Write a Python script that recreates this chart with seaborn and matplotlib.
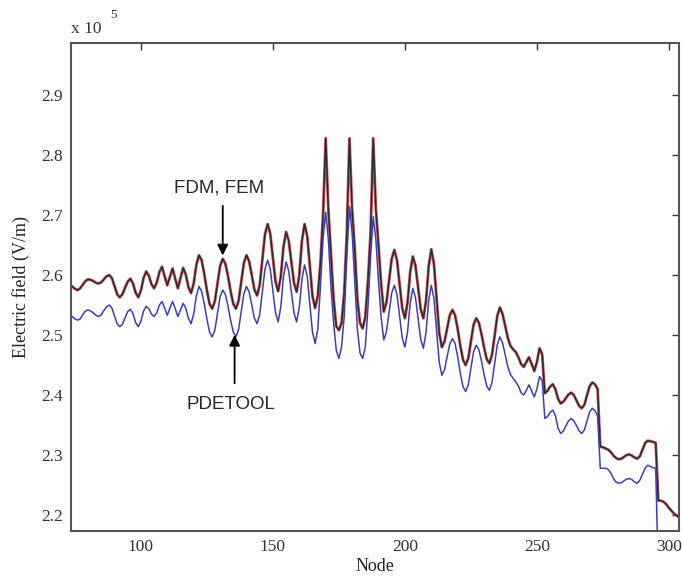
import numpy as np
import pandas as pd
import seaborn as sns
import matplotlib.pyplot as plt

# Electric field along the nodes (x 10^5 V/m)
nodes = list(range(73, 305))

fdm_fem = [
    2.583, 2.581, 2.577, 2.575, 2.578, 2.584, 2.590,
    2.593, 2.592, 2.590, 2.587, 2.586, 2.588, 2.593, 2.598, 2.600, 2.595,
    2.582, 2.568, 2.563, 2.568, 2.579, 2.589, 2.594, 2.586, 2.571, 2.563,
    2.574, 2.595, 2.606, 2.599, 2.585, 2.578, 2.587, 2.605, 2.614, 2.598,
    2.583, 2.597, 2.611, 2.594, 2.578, 2.595, 2.612, 2.601, 2.580, 2.570,
    2.586, 2.617, 2.633, 2.625, 2.602, 2.575, 2.552, 2.544, 2.556, 2.586,
    2.615, 2.627, 2.619, 2.598, 2.573, 2.552, 2.544, 2.557, 2.589, 2.620,
    2.633, 2.623, 2.600, 2.576, 2.566, 2.583, 2.626, 2.668, 2.685, 2.669,
    2.629, 2.589, 2.573, 2.598, 2.647, 2.672, 2.657, 2.622, 2.587, 2.572,
    2.600, 2.657, 2.685, 2.665, 2.615, 2.565, 2.545, 2.565, 2.620, 2.700,
    2.828, 2.710, 2.635, 2.560, 2.515, 2.508, 2.520, 2.570, 2.670, 2.828,
    2.710, 2.645, 2.560, 2.520, 2.511, 2.530, 2.590, 2.670, 2.828, 2.710,
    2.650, 2.585, 2.539, 2.554, 2.591, 2.627, 2.642, 2.625, 2.585, 2.545,
    2.528, 2.554, 2.605, 2.631, 2.616, 2.580, 2.543, 2.528, 2.557, 2.614,
    2.643, 2.619, 2.562, 2.504, 2.480, 2.489, 2.511, 2.533, 2.542, 2.533,
    2.510, 2.482, 2.459, 2.450, 2.461, 2.489, 2.517, 2.528, 2.521, 2.502,
    2.479, 2.460, 2.453, 2.467, 2.500, 2.532, 2.546, 2.535, 2.515, 2.495,
    2.482, 2.476, 2.472, 2.463, 2.452, 2.447, 2.455, 2.463, 2.452, 2.440,
    2.455, 2.478, 2.468, 2.403, 2.407, 2.414, 2.418, 2.410, 2.394, 2.386,
    2.389, 2.395, 2.401, 2.404, 2.400, 2.391, 2.382, 2.378, 2.384, 2.400,
    2.415, 2.421, 2.418, 2.410, 2.314, 2.313, 2.311, 2.309, 2.305, 2.299,
    2.295, 2.293, 2.294, 2.297, 2.300, 2.301, 2.299, 2.296, 2.294, 2.298,
    2.309, 2.320, 2.324, 2.323, 2.322, 2.320, 2.224, 2.224, 2.222, 2.218,
    2.212, 2.207, 2.202, 2.199, 2.196,
]

pdetool = [
    2.533, 2.531, 2.527, 2.525, 2.527, 2.534, 2.540,
    2.542, 2.540, 2.537, 2.533, 2.531, 2.534, 2.541, 2.547, 2.550, 2.545,
    2.532, 2.519, 2.514, 2.518, 2.529, 2.539, 2.543, 2.536, 2.521, 2.514,
    2.523, 2.540, 2.548, 2.544, 2.535, 2.531, 2.537, 2.550, 2.556, 2.545,
    2.533, 2.545, 2.556, 2.544, 2.531, 2.542, 2.553, 2.545, 2.528, 2.519,
    2.535, 2.565, 2.581, 2.573, 2.552, 2.527, 2.505, 2.497, 2.508, 2.536,
    2.564, 2.575, 2.568, 2.548, 2.524, 2.505, 2.497, 2.509, 2.539, 2.569,
    2.581, 2.572, 2.550, 2.528, 2.519, 2.534, 2.572, 2.610, 2.625, 2.610,
    2.574, 2.537, 2.522, 2.547, 2.597, 2.622, 2.607, 2.572, 2.537, 2.522,
    2.546, 2.593, 2.617, 2.598, 2.552, 2.505, 2.486, 2.510, 2.580, 2.660,
    2.705, 2.660, 2.580, 2.520, 2.475, 2.461, 2.480, 2.530, 2.630, 2.714,
    2.670, 2.590, 2.510, 2.470, 2.461, 2.480, 2.545, 2.630, 2.697, 2.660,
    2.590, 2.530, 2.492, 2.505, 2.537, 2.570, 2.583, 2.568, 2.532, 2.495,
    2.480, 2.505, 2.553, 2.578, 2.563, 2.528, 2.493, 2.478, 2.504, 2.557,
    2.583, 2.561, 2.508, 2.455, 2.433, 2.442, 2.464, 2.485, 2.494, 2.486,
    2.464, 2.436, 2.414, 2.406, 2.417, 2.445, 2.472, 2.483, 2.476, 2.457,
    2.434, 2.415, 2.408, 2.421, 2.453, 2.484, 2.497, 2.487, 2.467, 2.447,
    2.434, 2.428, 2.422, 2.415, 2.404, 2.400, 2.408, 2.417, 2.407, 2.397,
    2.410, 2.431, 2.424, 2.361, 2.364, 2.371, 2.375, 2.366, 2.345, 2.336,
    2.340, 2.349, 2.357, 2.361, 2.357, 2.349, 2.340, 2.336, 2.342, 2.357,
    2.372, 2.378, 2.374, 2.365, 2.278, 2.278, 2.278, 2.276, 2.270, 2.261,
    2.255, 2.253, 2.254, 2.257, 2.260, 2.261, 2.259, 2.255, 2.253, 2.258,
    2.268, 2.278, 2.283, 2.281, 2.279, 2.278, 2.100, 2.100, 2.100, 2.100,
    2.100, 2.100, 2.100, 2.100, 2.100,
]

x_ticks = [100, 150, 200, 250, 300]
y_ticks = [2.2, 2.3, 2.4, 2.5, 2.6, 2.7, 2.8, 2.9]

df = pd.DataFrame({'Node': nodes, 'fdm_fem': fdm_fem, 'pdetool': pdetool})

sns.set_style('white')
plt.rcParams['font.family'] = ['Liberation Serif', 'DejaVu Serif']

fig = plt.figure(figsize=(6.82, 5.76), dpi=100)
ax = fig.add_axes([0.104, 0.078, 0.8915, 0.8472])

# FEM (red halo), FDM (dark line) and PDETOOL (blue)
sns.lineplot(data=df, x='Node', y='fdm_fem', ax=ax, color='#cc3a44',
             lw=2.1, alpha=0.85, estimator=None, sort=False)
sns.lineplot(data=df, x='Node', y='fdm_fem', ax=ax, color='#2b2b2b',
             lw=1.1, estimator=None, sort=False)
sns.lineplot(data=df, x='Node', y='pdetool', ax=ax, color='#3c3cbc',
             lw=1.1, estimator=None, sort=False)

ax.set_xlim(73.5, 303.8)
ax.set_ylim(2.1733, 2.9867)
ax.set_xticks(x_ticks)
ax.set_yticks(y_ticks)
ax.set_yticklabels([f'{v:.1f}' for v in y_ticks])
ax.tick_params(direction='in', length=5, width=1, top=True, right=True,
               labelsize=12.5, colors='#333333', pad=6)
for s in ax.spines.values():
    s.set_color('#555555')
    s.set_linewidth(1.5)

ax.set_xlabel('Node', fontsize=13, color='#222222', labelpad=2)
ax.set_ylabel('Electric field (V/m)', fontsize=13, color='#222222', labelpad=8)

ax.text(0.0, 1.012, 'x 10', transform=ax.transAxes, fontsize=12.5,
        color='#333333', ha='left', va='bottom')
ax.text(0.065, 1.045, '5', transform=ax.transAxes, fontsize=9.5,
        color='#333333', ha='left', va='bottom')

# annotations
ax.annotate('', xy=(131, 2.628), xytext=(131, 2.72),
            arrowprops=dict(arrowstyle='-|>', color='black', lw=1.3,
                            mutation_scale=16))
ax.text(129.5, 2.745, 'FDM, FEM', fontsize=13.5, ha='center', va='center',
        family=['Liberation Sans', 'DejaVu Sans'])
ax.annotate('', xy=(135.5, 2.505), xytext=(135.5, 2.415),
            arrowprops=dict(arrowstyle='-|>', color='black', lw=1.3,
                            mutation_scale=16))
ax.text(134, 2.385, 'PDETOOL', fontsize=13.5, ha='center', va='center',
        family=['Liberation Sans', 'DejaVu Sans'])

fig.savefig('out.png', dpi=100)
